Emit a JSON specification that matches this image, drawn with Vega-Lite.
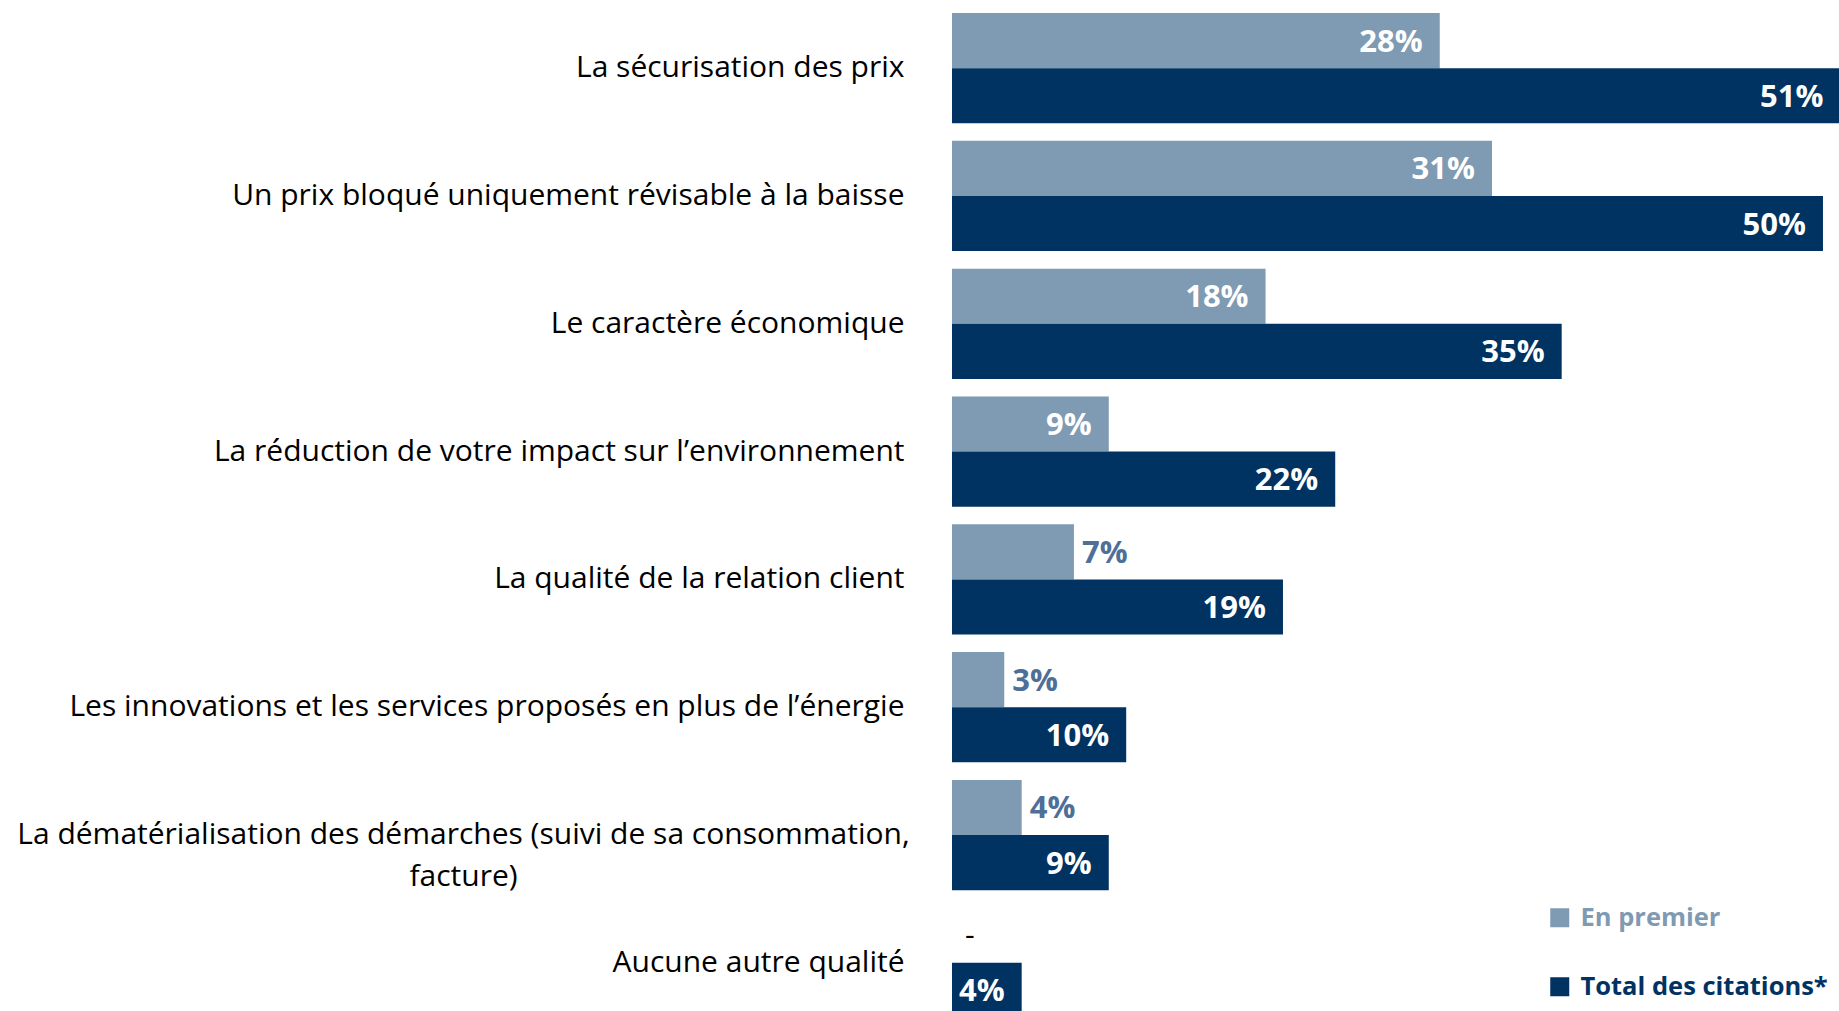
{
  "$schema": "https://vega.github.io/schema/vega-lite/v6.json",
  "width": 887,
  "height": 998,
  "autosize": {"type": "none"},
  "padding": {"left": 952, "top": 13, "right": 0, "bottom": 0},
  "background": "white",
  "config": {"view": {"stroke": null}, "font": "Open Sans"},
  "data": {
    "values": [
      {"cat": "La sécurisation des prix", "series": "En premier", "value": 0.28},
      {"cat": "La sécurisation des prix", "series": "Total des citations*", "value": 0.51},
      {"cat": "Un prix bloqué uniquement révisable à la baisse", "series": "En premier", "value": 0.31},
      {"cat": "Un prix bloqué uniquement révisable à la baisse", "series": "Total des citations*", "value": 0.50},
      {"cat": "Le caractère économique", "series": "En premier", "value": 0.18},
      {"cat": "Le caractère économique", "series": "Total des citations*", "value": 0.35},
      {"cat": "La réduction de votre impact sur l’environnement", "series": "En premier", "value": 0.09},
      {"cat": "La réduction de votre impact sur l’environnement", "series": "Total des citations*", "value": 0.22},
      {"cat": "La qualité de la relation client", "series": "En premier", "value": 0.07},
      {"cat": "La qualité de la relation client", "series": "Total des citations*", "value": 0.19},
      {"cat": "Les innovations et les services proposés en plus de l’énergie", "series": "En premier", "value": 0.03},
      {"cat": "Les innovations et les services proposés en plus de l’énergie", "series": "Total des citations*", "value": 0.10},
      {"cat": "La dématérialisation des démarches (suivi de sa consommation, facture)", "series": "En premier", "value": 0.04},
      {"cat": "La dématérialisation des démarches (suivi de sa consommation, facture)", "series": "Total des citations*", "value": 0.09},
      {"cat": "Aucune autre qualité", "series": "En premier", "value": 0},
      {"cat": "Aucune autre qualité", "series": "Total des citations*", "value": 0.04}
    ]
  },
  "encoding": {
    "y": {
      "field": "cat",
      "type": "nominal",
      "sort": null,
      "scale": {"paddingInner": 0.137, "paddingOuter": 0, "range": [0, 1005]},
      "axis": {
        "title": null,
        "domain": false,
        "ticks": false,
        "labelPadding": {"condition": {"test": "datum.value == 'La dématérialisation des démarches (suivi de sa consommation, facture)'", "value": 489}, "value": 48},
        "labelAlign": {"condition": {"test": "datum.value == 'La dématérialisation des démarches (suivi de sa consommation, facture)'", "value": "center"}, "value": "right"},
        "labelFontSize": 30,
        "labelFont": "Open Sans",
        "labelColor": "#000000",
        "labelLimit": 1000,
        "labelLineHeight": 42,
        "labelExpr": "datum.value == 'La dématérialisation des démarches (suivi de sa consommation, facture)' ? ['La dématérialisation des démarches (suivi de sa consommation,', 'facture)'] : datum.value"
      }
    },
    "yOffset": {
      "field": "series",
      "type": "nominal",
      "sort": ["En premier", "Total des citations*"],
      "scale": {"paddingInner": 0, "paddingOuter": 0}
    },
    "x": {
      "field": "value",
      "type": "quantitative",
      "scale": {"domain": [0, 0.5092], "nice": false, "zero": true},
      "axis": null
    }
  },
  "layer": [
    {
      "mark": {"type": "bar", "clip": true},
      "encoding": {
        "color": {
          "field": "series",
          "type": "nominal",
          "scale": {"domain": ["En premier", "Total des citations*"], "range": ["#7f9ab3", "#003262"]},
          "legend": {
            "orient": "none",
            "legendX": 595,
            "legendY": 892,
            "title": null,
            "symbolType": "square",
            "symbolSize": 361,
            "symbolStrokeWidth": 0,
            "labelFont": "Open Sans",
            "labelFontSize": 25.5,
            "labelFontWeight": "bold",
            "labelLimit": 400,
            "labelOffset": 8,
            "labelColor": {"expr": "datum.label == 'En premier' ? '#7f9ab3' : '#003262'"},
            "rowPadding": 42,
            "padding": 0
          }
        }
      }
    },
    {
      "transform": [{"filter": "datum.series == 'Total des citations*' || datum.value >= 0.08"}],
      "mark": {"type": "text", "align": "right", "baseline": "middle", "dx": -17, "dy": 2, "font": "Open Sans", "fontWeight": "bold", "fontSize": 31, "fill": "#ffffff"},
      "encoding": {
        "text": {"field": "value", "type": "quantitative", "format": ".0%"}
      }
    },
    {
      "transform": [{"filter": "datum.series == 'En premier' && datum.value < 0.08 && datum.value > 0"}],
      "mark": {"type": "text", "align": "left", "baseline": "middle", "dx": 8, "dy": 2, "font": "Open Sans", "fontWeight": "bold", "fontSize": 31, "fill": "#4e6f97"},
      "encoding": {
        "text": {"field": "value", "type": "quantitative", "format": ".0%"}
      }
    },
    {
      "transform": [{"filter": "datum.value == 0"}],
      "mark": {"type": "text", "align": "left", "baseline": "middle", "dx": 13, "dy": 1, "font": "Open Sans", "fontWeight": "normal", "fontSize": 30, "fill": "#000000", "text": "-"},
      "encoding": {}
    }
  ]
}
